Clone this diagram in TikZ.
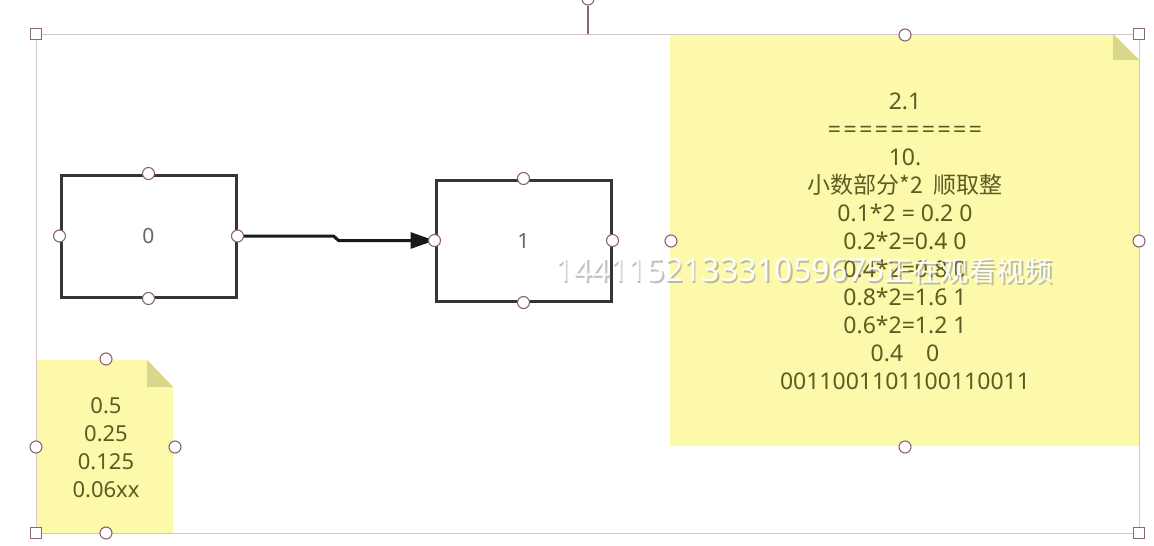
\documentclass[tikz,border=0pt]{standalone}
\usepackage{fontspec}
\setmainfont{Noto Sans}
\newfontfamily\cjk{Noto Sans CJK SC}
\usetikzlibrary{arrows.meta,calc}
\definecolor{sticky}{HTML}{FCFAAA}
\definecolor{fold}{HTML}{D8D78B}
\definecolor{ink}{HTML}{5C5B22}
\definecolor{framec}{HTML}{D4C4CC}
\definecolor{hdl}{HTML}{8E6072}
\definecolor{boxline}{HTML}{353535}
\definecolor{lbl}{HTML}{666666}
\tikzset{
  stickynote/.style={fill=sticky, draw=none},
  foldtri/.style={fill=fold, draw=none},
  notetext/.style={text=ink, align=center, font=\fontsize{23}{28}\selectfont, inner sep=0pt},
  smallnotetext/.style={text=ink, align=center, font=\fontsize{22}{28}\selectfont, inner sep=0pt},
  stepbox/.style={draw=boxline, line width=3pt, rectangle, fill=none, text=lbl,
    font=\fontsize{21}{26}\selectfont},
  handle/.style={circle, draw=hdl, fill=white, line width=1.1pt, minimum size=12pt, inner sep=0pt},
  sqhandle/.style={rectangle, draw=hdl!80!gray, fill=white, line width=1.1pt, minimum size=11pt, inner sep=0pt},
  framel/.style={draw=framec, line width=1pt},
  arrowline/.style={draw=black!90, line width=3pt, -{Triangle[length=24pt,width=16pt]}},
  wmark/.style={font=\fontsize{32}{32}\selectfont, inner sep=0pt},
}
\newcommand{\eqrow}{\foreach \k in {1,...,10}{=\kern2.5pt}}
\newcommand{\wmtext}{144115213331059675{\cjk\fontsize{28}{28}\selectfont 正在观看视频}}
\begin{document}
\begin{tikzpicture}[x=1pt,y=-1pt]
\useasboundingbox (0,0) rectangle (1154,546);
\fill[white] (0,0) rectangle (1154,546);

% sticky notes
\fill[stickynote] (670,34) rectangle (1139,446);
\fill[white] (1113,33) -- (1140,33) -- (1140,60) -- cycle;
\fill[foldtri] (1113,34) -- (1113,60) -- (1139,60) -- cycle;
\fill[stickynote] (36,360) rectangle (173,533);
\fill[white] (147,359) -- (174,359) -- (174,387) -- cycle;
\fill[foldtri] (147,360) -- (147,387) -- (173,387) -- cycle;

% selection frame
\draw[framel] (36,34) rectangle (1139,533);
\draw[draw=hdl, line width=1.1pt] (588,6) -- (588,34);

% boxes
\node[stepbox, minimum width=175pt, minimum height=122pt] (b0) at (148.5,236) {0};
\node[stepbox, minimum width=175pt, minimum height=121pt] (b1) at (523.5,240.5) {1};

% arrow
\draw[arrowline] (b0.east) -- ($(b0.east)+(96,0)$) -- ($(b1.west)+(-96,0)$) -- (b1.west);

% note texts
\node[notetext] (bigtext) at (905,241) {2.1\\\kern2.5pt\eqrow\\10.\\{\cjk 小数部分*2\ \ 顺取整}\\0.1*2 = 0.2 0\\0.2*2=0.4 0\\0.4*2=0.8 0\\0.8*2=1.6 1\\0.6*2=1.2 1\\0.4\quad 0\\0011001101100110011};
\node[smallnotetext] (smalltext) at (106,448) {0.5\\0.25\\0.125\\0.06xx};

% handles
\node[handle] (r0) at (588,-1) {};
\node[handle] (h1) at (b0.north) {};
\node[handle] (h2) at (b0.south) {};
\node[handle] (h3) at (b0.west) {};
\node[handle] (h4) at (b0.east) {};
\node[handle] (h5) at (b1.north) {};
\node[handle] (h6) at (b1.south) {};
\node[handle] (h7) at (b1.west) {};
\node[handle] (h8) at (b1.east) {};
\node[handle] (h9) at (905,35) {};
\node[handle] (h10) at (671,241) {};
\node[handle] (h11) at (1139,241) {};
\node[handle] (h12) at (905,447) {};
\node[handle] (h13) at (106,359) {};
\node[handle] (h14) at (36,447) {};
\node[handle] (h15) at (175,447) {};
\node[handle] (h16) at (106,533) {};
\node[sqhandle] (s1) at (36,34) {};
\node[sqhandle] (s2) at (1139,34) {};
\node[sqhandle] (s3) at (36,533) {};
\node[sqhandle] (s4) at (1139,533) {};

% watermark
\node[wmark, text=black!50, opacity=0.5] (wms) at (805.5,272.5) {\wmtext};
\node[wmark, text=white, opacity=0.95] (wm) at (804,271) {\wmtext};
\end{tikzpicture}
\end{document}
